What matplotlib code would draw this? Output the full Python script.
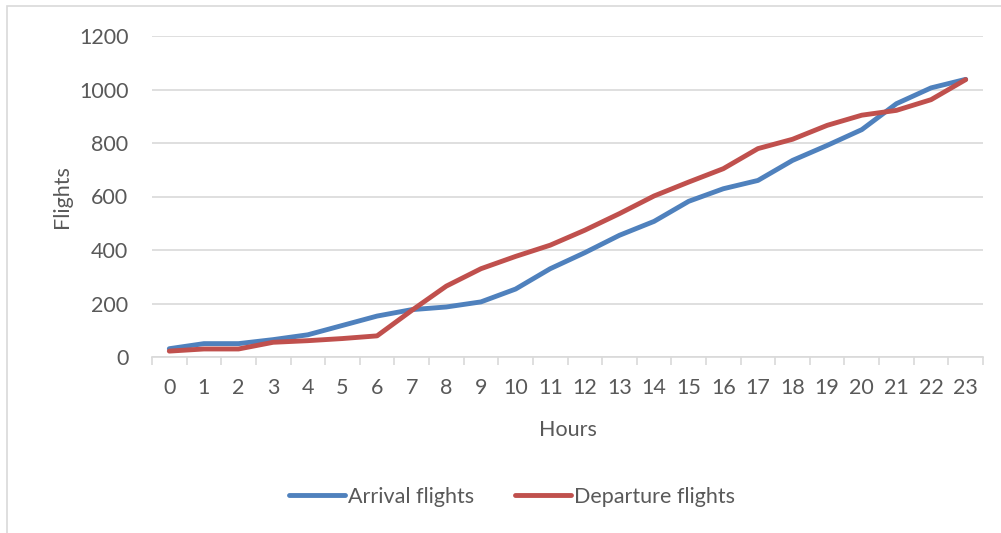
import matplotlib
matplotlib.use("Agg")
import matplotlib.pyplot as plt
from matplotlib.patches import Rectangle
import numpy as np

hours = list(range(24))
arrival = [31, 50, 50, 65, 83, 118, 153, 177, 187, 206, 254, 330,
           390, 455, 507, 582, 629, 660, 735, 791, 850, 947, 1006, 1038]
departure = [22, 30, 30, 55, 61, 69, 79, 174, 265, 330, 376, 418,
             474, 536, 602, 654, 704, 779, 814, 866, 904, 922, 962, 1037]
y_ticks = [0, 200, 400, 600, 800, 1000, 1200]

TEXT = "#595959"
GRID = "#d9d9d9"
BLUE = "#4f81bd"
RED = "#c0504d"
FONT = ["Lato", "DejaVu Sans"]
FS = 15.5
LW = 3.5

plt.rcParams["font.family"] = FONT

W, H = 1001, 533
fig = plt.figure(figsize=(W / 100, H / 100), dpi=100)

# chart frame (left and top edges visible)
fig.patches.append(Rectangle((7 / W, -0.1), 1.2, (H - 6) / H + 0.1,
                             transform=fig.transFigure, fill=False,
                             edgecolor=GRID, linewidth=1.2))

ax = fig.add_axes([152 / W, (H - 357) / H, (983 - 152) / W, (357 - 36) / H])

x = np.array(hours)
ax.plot(x, arrival, color=BLUE, linewidth=LW, solid_capstyle="round",
        solid_joinstyle="round", label="Arrival flights", zorder=3)
ax.plot(x, departure, color=RED, linewidth=LW, solid_capstyle="round",
        solid_joinstyle="round", label="Departure flights", zorder=3)

ax.set_xlim(-0.5, 23.5)
ax.set_ylim(0, 1200)
ax.set_yticks(y_ticks)
ax.set_xticks(x)
ax.set_xticklabels([str(h) for h in hours])
ax.set_xticks(np.arange(-0.5, 24, 1), minor=True)

ax.grid(axis="y", color=GRID, linewidth=1.2)
ax.set_axisbelow(True)
for s in ["top", "right", "left"]:
    ax.spines[s].set_visible(False)
ax.spines["bottom"].set_color(GRID)
ax.spines["bottom"].set_linewidth(1.2)

ax.tick_params(axis="y", length=0, pad=17, labelsize=FS, labelcolor=TEXT)
ax.tick_params(axis="x", which="major", length=0, pad=15, labelsize=FS,
               labelcolor=TEXT)
ax.tick_params(axis="x", which="minor", length=6, width=1.2, color=GRID)

ax.set_xlabel("Hours", fontsize=FS, color=TEXT, labelpad=16)
ax.set_ylabel("Flights", fontsize=FS, color=TEXT, labelpad=5)

leg = fig.legend(loc="center", bbox_to_anchor=(512 / W, (H - 497) / H),
                 ncol=2, frameon=False, fontsize=FS, handlelength=2.6,
                 handletextpad=0.15, columnspacing=1.9)
for t in leg.get_texts():
    t.set_color(TEXT)
for l in leg.get_lines():
    l.set_linewidth(LW)

fig.savefig("out.png", dpi=100)
